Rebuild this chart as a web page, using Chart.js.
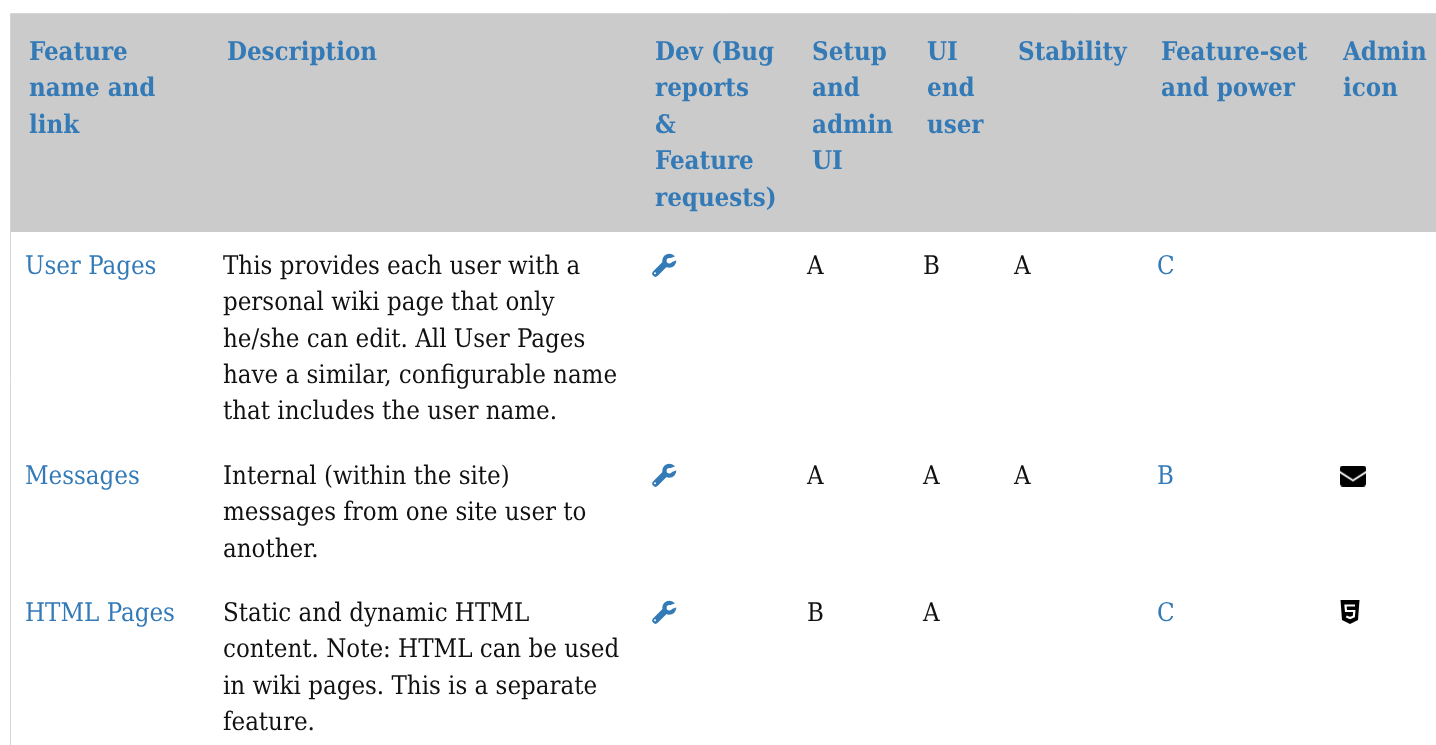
<!DOCTYPE html>
<html>
<head>
<meta charset="utf-8">
<title>Features</title>
<script src="https://cdn.jsdelivr.net/npm/chart.js@4"></script>
<style>
  html, body { margin: 0; padding: 0; background: #fff; overflow: hidden; }
  canvas { display: block; }
</style>
</head>
<body>
<canvas id="featuresChart" width="1436" height="745"></canvas>
<script>
// table content
const headers = [
    ['Feature', 'name and', 'link'],
    ['Description'],
    ['Dev (Bug', 'reports', '&', 'Feature', 'requests)'],
    ['Setup', 'and', 'admin', 'UI'],
    ['UI', 'end', 'user'],
    ['Stability'],
    ['Feature-set', 'and power'],
    ['Admin', 'icon']
];
const features = ['User Pages', 'Messages', 'HTML Pages'];
const descriptions = [
    ['This provides each user with a', 'personal wiki page that only', 'he/she can edit. All User Pages', 'have a similar, configurable name', 'that includes the user name.'],
    ['Internal (within the site)', 'messages from one site user to', 'another.'],
    ['Static and dynamic HTML', 'content. Note: HTML can be used', 'in wiki pages. This is a separate', 'feature.']
];
const setupGrades = ['A', 'A', 'B'];
const uiGrades = ['B', 'A', 'A'];
const stabilityGrades = ['A', 'A', ''];
const featureSetGrades = ['C', 'B', 'C'];
const devIcons = ['wrench', 'wrench', 'wrench'];
const adminIcons = ['', 'envelope', 'html5'];

// layout of the page, in page pixels
const headerX = [29, 227, 655, 812, 927, 1018, 1161, 1343];
const cellX = [25, 223, 0, 807, 923, 1014, 1157];
const headerBaseline = 60;
const headerLine = 36.4;
const rowBaseline = [274, 484, 621];
const bodyLine = 36.25;
const linkBlue = '#337ab7';
const bodyFont = '25.6px "DejaVu Serif Condensed", "DejaVu Serif"';
const headerFont = 'bold 25.6px "DejaVu Serif Condensed", "DejaVu Serif"';

function textSet(points, texts, font, color) {
    return { type: 'scatter', data: points, texts: texts, textFont: font, textColor: color, pointRadius: 0, pointHoverRadius: 0 };
}

function gradeSet(grades, col, color) {
    const used = grades.map((g, i) => ({ g, i })).filter(c => c.g);
    return textSet(used.map(c => ({ x: cellX[col], y: rowBaseline[c.i] })), used.map(c => c.g), bodyFont, color);
}

function makeIcon(w, h, draw) {
    const c = document.createElement('canvas');
    c.width = w;
    c.height = h;
    draw(c.getContext('2d'));
    return c;
}

const wrenchIcon = makeIcon(28, 28, ctx => {
    ctx.fillStyle = linkBlue;
    ctx.strokeStyle = linkBlue;
    ctx.lineCap = 'round';
    // handle
    ctx.lineWidth = 6.4;
    ctx.beginPath();
    ctx.moveTo(5.5, 21.5);
    ctx.lineTo(15.5, 11.5);
    ctx.stroke();
    // head
    ctx.beginPath();
    ctx.arc(19.3, 8.7, 7, 0, Math.PI * 2);
    ctx.fill();
    // jaw and handle hole are cut out
    ctx.globalCompositeOperation = 'destination-out';
    ctx.beginPath();
    ctx.arc(19.3, 8.7, 2.7, 0, Math.PI * 2);
    ctx.fill();
    ctx.lineWidth = 4.2;
    ctx.lineCap = 'butt';
    ctx.beginPath();
    ctx.moveTo(19.3, 8.7);
    ctx.lineTo(27.5, 5.7);
    ctx.stroke();
    ctx.beginPath();
    ctx.arc(5, 21.3, 1, 0, Math.PI * 2);
    ctx.fill();
});

const envelopeIcon = makeIcon(26, 21, ctx => {
    ctx.fillStyle = '#000';
    ctx.beginPath();
    ctx.roundRect(0, 0, 26, 21, 3);
    ctx.fill();
    ctx.strokeStyle = '#fff';
    ctx.lineWidth = 1.8;
    ctx.beginPath();
    ctx.moveTo(-1, 6);
    ctx.lineTo(13, 15);
    ctx.lineTo(27, 6);
    ctx.stroke();
});

const html5Icon = makeIcon(20, 24, ctx => {
    ctx.fillStyle = '#000';
    ctx.beginPath();
    ctx.moveTo(0.5, 0);
    ctx.lineTo(19.5, 0);
    ctx.lineTo(18, 20);
    ctx.lineTo(10, 24);
    ctx.lineTo(2, 20);
    ctx.closePath();
    ctx.fill();
    ctx.strokeStyle = '#fff';
    ctx.lineWidth = 2.2;
    ctx.beginPath();
    ctx.moveTo(15, 5.5);
    ctx.lineTo(5.5, 5.5);
    ctx.lineTo(6, 11);
    ctx.lineTo(14.3, 11);
    ctx.lineTo(13.8, 16.5);
    ctx.lineTo(10, 18);
    ctx.lineTo(6.3, 16.5);
    ctx.stroke();
});

const icons = { wrench: wrenchIcon, envelope: envelopeIcon, html5: html5Icon };

function iconSets(names, x, offset) {
    return names
        .map((name, i) => ({ name, i }))
        .filter(c => c.name)
        .map(c => ({
            type: 'scatter',
            data: [{ x: x[c.name], y: rowBaseline[c.i] + offset[c.name] }],
            pointStyle: icons[c.name],
            pointRadius: 10,
            pointHoverRadius: 10
        }));
}

// header texts, one point per line
const headerPoints = [];
const headerTexts = [];
headers.forEach((lines, col) => {
    lines.forEach((line, n) => {
        headerPoints.push({ x: headerX[col], y: headerBaseline + n * headerLine });
        headerTexts.push(line);
    });
});

const descPoints = [];
const descTexts = [];
descriptions.forEach((lines, row) => {
    lines.forEach((line, n) => {
        descPoints.push({ x: cellX[1], y: rowBaseline[row] + n * bodyLine });
        descTexts.push(line);
    });
});

// draws the texts of each dataset at the points the scales worked out
const cellText = {
    id: 'cellText',
    afterDatasetsDraw(chart) {
        const ctx = chart.ctx;
        ctx.save();
        ctx.textAlign = 'left';
        ctx.textBaseline = 'alphabetic';
        ctx.textRendering = 'geometricPrecision';
        chart.data.datasets.forEach((ds, i) => {
            if (!ds.texts) return;
            ctx.font = ds.textFont;
            ctx.fillStyle = ds.textColor;
            chart.getDatasetMeta(i).data.forEach((pt, n) => {
                ctx.fillText(ds.texts[n], pt.x, pt.y);
            });
        });
        ctx.restore();
    }
};

const pageBackground = {
    id: 'pageBackground',
    beforeDraw(chart) {
        chart.ctx.fillStyle = '#fff';
        chart.ctx.fillRect(0, 0, chart.width, chart.height);
    }
};

new Chart(document.getElementById('featuresChart').getContext('2d'), {
    type: 'scatter',
    data: {
        datasets: [
            textSet(headerPoints, headerTexts, headerFont, linkBlue),
            textSet(features.map((f, i) => ({ x: cellX[0], y: rowBaseline[i] })), features, bodyFont, linkBlue),
            textSet(descPoints, descTexts, bodyFont, '#111'),
            gradeSet(setupGrades, 3, '#111'),
            gradeSet(uiGrades, 4, '#111'),
            gradeSet(stabilityGrades, 5, '#111'),
            gradeSet(featureSetGrades, 6, linkBlue),
            ...iconSets(devIcons, { wrench: 664 }, { wrench: -8 }),
            ...iconSets(adminIcons, { envelope: 1353, html5: 1350 }, { envelope: -8, html5: -9 }),
            // table left border and top border
            {
                type: 'scatter', showLine: true, pointRadius: 0, borderColor: '#d6d6d6', borderWidth: 1,
                data: [{ x: 10.5, y: 745 }, { x: 10.5, y: 13.5 }, { x: 1436, y: 13.5 }]
            },
            // header band
            {
                type: 'scatter', showLine: true, pointRadius: 0, borderWidth: 0,
                backgroundColor: '#cbcbcb', fill: { value: 232 },
                data: [{ x: 10, y: 14 }, { x: 1436, y: 14 }]
            }
        ]
    },
    options: {
        responsive: false,
        animation: false,
        events: [],
        layout: { padding: 0, autoPadding: false },
        scales: {
            x: { type: 'linear', display: false, min: 0, max: 1436 },
            y: { type: 'linear', display: false, min: 0, max: 745, reverse: true }
        },
        plugins: {
            legend: { display: false },
            tooltip: { enabled: false },
            title: { display: false }
        }
    },
    plugins: [pageBackground, cellText]
});
</script>
</body>
</html>
